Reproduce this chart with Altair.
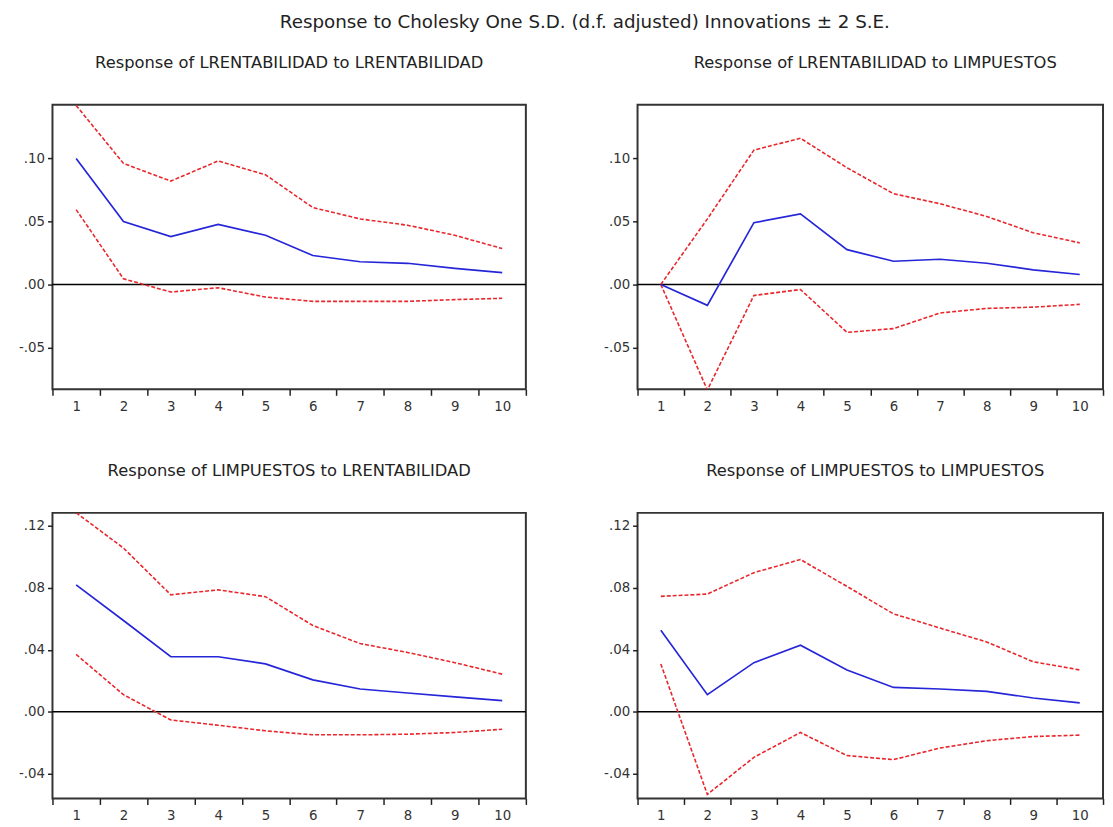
import altair as alt
import pandas as pd

steps = [1, 2, 3, 4, 5, 6, 7, 8, 9, 10]

# Response of LRENTABILIDAD to LRENTABILIDAD
p1_resp = [0.100, 0.050, 0.038, 0.0476, 0.039, 0.023, 0.018, 0.0168, 0.0128, 0.0094]
p1_up = [0.142, 0.096, 0.082, 0.098, 0.087, 0.061, 0.052, 0.047, 0.039, 0.0285]
p1_lo = [0.0594, 0.0045, -0.006, -0.0026, -0.010, -0.0134, -0.0134, -0.0134, -0.012, -0.011]

# Response of LRENTABILIDAD to LIMPUESTOS
p2_resp = [0.0, -0.0166, 0.049, 0.056, 0.0276, 0.0184, 0.020, 0.0168, 0.0116, 0.0079]
p2_up = [0.0, 0.052, 0.1066, 0.116, 0.0926, 0.072, 0.064, 0.054, 0.041, 0.033]
p2_lo = [0.0, -0.0837, -0.0087, -0.004, -0.038, -0.035, -0.0226, -0.019, -0.018, -0.0158]

# Response of LIMPUESTOS to LRENTABILIDAD
p3_resp = [0.0819, 0.0589, 0.0355, 0.0355, 0.0309, 0.0206, 0.0147, 0.0121, 0.0096, 0.0072]
p3_up = [0.1285, 0.1057, 0.0755, 0.0787, 0.0743, 0.0557, 0.044, 0.0383, 0.0317, 0.0243]
p3_lo = [0.037, 0.011, -0.0053, -0.0087, -0.0123, -0.0149, -0.0149, -0.0145, -0.0134, -0.0113]

# Response of LIMPUESTOS to LIMPUESTOS
p4_resp = [0.0526, 0.011, 0.0317, 0.043, 0.027, 0.0157, 0.0147, 0.0132, 0.0089, 0.0057]
p4_up = [0.0745, 0.076, 0.0898, 0.0983, 0.0809, 0.0632, 0.054, 0.0451, 0.0323, 0.027]
p4_lo = [0.0309, -0.0534, -0.0294, -0.0134, -0.0283, -0.0309, -0.0234, -0.0187, -0.016, -0.0151]

titles = [
    "Response of LRENTABILIDAD to LRENTABILIDAD",
    "Response of LRENTABILIDAD to LIMPUESTOS",
    "Response of LIMPUESTOS to LRENTABILIDAD",
    "Response of LIMPUESTOS to LIMPUESTOS",
]
top_ticks = [-0.05, 0.0, 0.05, 0.10]
bottom_ticks = [-0.04, 0.0, 0.04, 0.08, 0.12]
top_domain = [-0.0832, 0.1426]
bottom_domain = [-0.056, 0.1284]

FONT = "DejaVu Sans"
BLUE = "#2626d9"
RED = "#e8262b"


def panel(title, resp, up, lo, domain, ticks, width, height, tdx):
    df = pd.DataFrame({
        "step": steps * 3,
        "value": resp + up + lo,
        "series": ["resp"] * 10 + ["up"] * 10 + ["lo"] * 10,
    })
    x = alt.X(
        "step:O",
        scale=alt.Scale(type="band", paddingInner=0, paddingOuter=0),
        bandPosition=0.5,
        axis=alt.Axis(
            title=None, labelAngle=0, tickBand="extent", domain=False,
            tickSize=6, tickWidth=1.5, tickColor="#222", labelPadding=4,
            labelFontSize=13.5, labelFont=FONT, labelColor="#333",
        ),
    )
    y = alt.Y(
        "value:Q",
        scale=alt.Scale(domain=domain, nice=False, zero=False),
        axis=alt.Axis(
            title=None, values=ticks, grid=False, domain=False,
            tickSize=5, tickWidth=1.5, tickColor="#222", labelPadding=3,
            labelFontSize=13.5, labelFont=FONT, labelColor="#333",
            labelExpr="replace(replace(format(datum.value, '.2f'), '0.', '.'), '\u2212', '-')",
        ),
    )
    base = alt.Chart(df)
    zero = alt.Chart(pd.DataFrame({"z": [0.0]})).mark_rule(
        color="black", strokeWidth=1.6
    ).encode(y=alt.Y("z:Q", scale=alt.Scale(domain=domain, nice=False, zero=False)))
    bands = base.transform_filter("datum.series != 'resp'").mark_line(
        color=RED, strokeWidth=1.6, strokeDash=[4, 2], clip=True
    ).encode(x=x, y=y, detail="series:N")
    line = base.transform_filter("datum.series == 'resp'").mark_line(
        color=BLUE, strokeWidth=1.7, clip=True
    ).encode(x=x, y=y)
    return alt.layer(zero, bands, line).properties(
        width=width, height=height,
        title=alt.TitleParams(title, fontSize=16.5, font=FONT, fontWeight="normal",
                              color="#222", offset=34, anchor="middle", dx=tdx),
    )


c1 = panel(titles[0], p1_resp, p1_up, p1_lo, top_domain, top_ticks, 479, 288, 0)
c2 = panel(titles[1], p2_resp, p2_up, p2_lo, top_domain, top_ticks, 471, 288, 5)
c3 = panel(titles[2], p3_resp, p3_up, p3_lo, bottom_domain, bottom_ticks, 479, 289, 0)
c4 = panel(titles[3], p4_resp, p4_up, p4_lo, bottom_domain, bottom_ticks, 471, 289, 5)

chart = alt.vconcat(
    alt.hconcat(c1, c2, spacing=75),
    alt.hconcat(c3, c4, spacing=75),
    spacing=48,
).properties(
    title=alt.TitleParams(
        "Response to Cholesky One S.D. (d.f. adjusted) Innovations \u00b1 2 S.E.",
        fontSize=18.5, font=FONT, fontWeight="normal", color="#222",
        anchor="middle", offset=23, dx=24,
    ),
    padding={"left": 9, "top": 0, "right": 0, "bottom": 0},
).configure_view(
    stroke="#333", strokeWidth=2
).configure_concat(spacing=0)

chart.save("out.html", embed_options={"renderer": "svg", "actions": False})
